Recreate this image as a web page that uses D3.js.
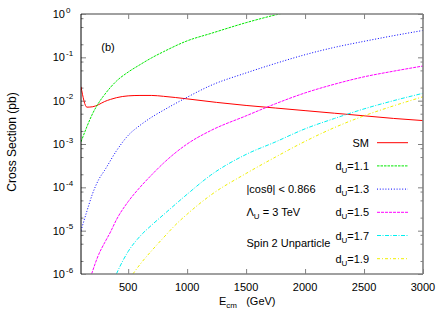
<!DOCTYPE html>
<html><head><meta charset="utf-8">
<script src="https://cdn.jsdelivr.net/npm/d3@7"></script>
<style>body{margin:0;background:#fff;} svg{display:block;font-family:"Liberation Sans",Arial,Helvetica,sans-serif;}</style>
</head><body><svg id="c" width="443" height="310"></svg>
<script>
// ---- data (E in GeV, cross section in pb) ----
const smE  = [100,150,200,250,300,350,400,500,600,700,800,1000,1250,1500,1750,2000,2250,2500,2750,3000];
const smV  = [0.0209,0.00708,0.00724,0.00813,0.00955,0.0107,0.0117,0.0129,0.0132,0.0132,0.0126,0.0110,0.00912,0.00776,0.00676,0.00589,0.00513,0.00447,0.00389,0.00347];
const d11E = [100,150,200,250,300,400,500,600,700,800,1000,1200,1500,1750,2000,2500,3000];
const d11V = [0.00112,0.00251,0.00513,0.00891,0.0138,0.0282,0.0457,0.0676,0.0977,0.135,0.240,0.355,0.631,0.955,1.35,2.29,3.55];
const d13E = [100,150,200,250,300,400,500,600,700,800,1000,1200,1500,1750,2000,2250,2500,2750,3000];
const d13V = [1.0e-5,2.82e-5,7.4e-5,1.51e-4,2.46e-4,6.92e-4,1.58e-3,2.69e-3,4.17e-3,6.03e-3,0.0120,0.0224,0.0437,0.0724,0.115,0.170,0.234,0.316,0.417];
const d15E = [190,250,300,350,400,500,600,700,800,1000,1200,1500,1750,2000,2250,2500,2750,3000];
const d15V = [1.0e-6,2.82e-6,5.25e-6,9.33e-6,1.78e-5,4.68e-5,1.0e-4,1.95e-4,3.63e-4,1.0e-3,2.04e-3,4.47e-3,8.51e-3,0.0151,0.0240,0.0355,0.0479,0.0631];
const d17E = [400,450,500,600,700,800,1000,1200,1500,1750,2000,2250,2500,2750,3000];
const d17V = [1.0e-6,1.91e-6,3.31e-6,7.41e-6,1.35e-5,2.34e-5,6.92e-5,1.91e-4,5.75e-4,1.12e-3,2.24e-3,3.89e-3,6.46e-3,0.0100,0.0148];
const d19E = [540,600,700,800,900,1000,1200,1500,1750,2000,2250,2500,2750,3000];
const d19V = [1.0e-6,1.66e-6,3.47e-6,6.92e-6,1.35e-5,2.40e-5,6.61e-5,2.09e-4,5.01e-4,1.15e-3,2.40e-3,4.47e-3,7.59e-3,0.0123];

const xTicks = [500,1000,1500,2000,2500,3000];
const yExps = [-6,-5,-4,-3,-2,-1,0];
const minorMults = [2,5,8];
const seriesNames = ["SM","1.1","1.3","1.5","1.7","1.9"];
const notes = ["|cos\u03b8| < 0.866","\u039b","Spin 2 Unparticle"];

// ---- layout ----
const L=81,R=423,T=14,B=274;
const svg = d3.select("#c");
const x = d3.scaleLinear().domain([100,3000]).range([L,R]);
const y = d3.scaleLog().domain([1e-6,1]).range([B,T]);

const series = [
  {E:smE, V:smV, color:"#ff0000", dash:null},
  {E:d11E,V:d11V,color:"#00e800", dash:"2.5,1"},
  {E:d13E,V:d13V,color:"#0000ff", dash:"1,1.8"},
  {E:d15E,V:d15V,color:"#ff00ff", dash:"3,1"},
  {E:d17E,V:d17V,color:"#00f0f0", dash:"4,1.5,1,1.5"},
  {E:d19E,V:d19V,color:"#f0f000", dash:"3,2,1,2"}
];

svg.append("defs").append("clipPath").attr("id","clip")
  .append("rect").attr("x",L).attr("y",T).attr("width",R-L).attr("height",B-T);

const grey="#808080";
const majors = yExps.map(e=>Math.pow(10,e));
const minors = [];
yExps.slice(0,-1).forEach(e=>minorMults.forEach(m=>minors.push(m*Math.pow(10,e))));

function styleAxis(g){ g.select(".domain").remove(); g.selectAll("line").attr("stroke",grey).attr("stroke-width",1); }

svg.append("g").attr("transform",`translate(0,${B})`)
  .call(d3.axisBottom(x).tickValues(xTicks).tickSize(-5).tickFormat("")).call(styleAxis);
svg.append("g").attr("transform",`translate(0,${T})`)
  .call(d3.axisTop(x).tickValues(xTicks).tickSize(-5).tickFormat("")).call(styleAxis);
svg.append("g").attr("transform",`translate(${L},0)`)
  .call(d3.axisLeft(y).tickValues(majors).tickSize(-5).tickFormat("")).call(styleAxis);
svg.append("g").attr("transform",`translate(${L},0)`)
  .call(d3.axisLeft(y).tickValues(minors).tickSize(-2.5).tickFormat("")).call(styleAxis);
svg.append("g").attr("transform",`translate(${R},0)`)
  .call(d3.axisRight(y).tickValues(majors).tickSize(-5).tickFormat("")).call(styleAxis);
svg.append("g").attr("transform",`translate(${R},0)`)
  .call(d3.axisRight(y).tickValues(minors).tickSize(-2.5).tickFormat("")).call(styleAxis);

// x tick labels
svg.append("g").selectAll("text").data(xTicks).join("text")
  .attr("x",d=>x(d)).attr("y",291).attr("text-anchor","middle")
  .attr("font-size",11).attr("fill","#000").text(d=>d);
// y tick labels
const ylg = svg.append("g");
yExps.forEach(d=>{
  ylg.append("text").attr("x",65).attr("y",y(Math.pow(10,d))+4).attr("text-anchor","end")
    .attr("font-size",11).attr("fill","#000").text("10");
  ylg.append("text").attr("x",66).attr("y",y(Math.pow(10,d))-1.5).attr("font-size",8).attr("fill","#000").text(d);
});

// curves
const line = d3.line().x(d=>x(d[0])).y(d=>y(d[1])).curve(d3.curveMonotoneX);
const cg = svg.append("g").attr("clip-path","url(#clip)");
series.forEach(s=>{
  cg.append("path").datum(s.E.map((e,i)=>[e,s.V[i]]))
    .attr("d",line).attr("fill","none").attr("stroke",s.color).attr("stroke-width",1)
    .attr("stroke-dasharray",s.dash);
});

// border
svg.append("line").attr("x1",L).attr("x2",R).attr("y1",T).attr("y2",T).attr("stroke",grey).attr("stroke-width",1.6);
svg.append("line").attr("x1",L).attr("x2",R).attr("y1",B).attr("y2",B).attr("stroke",grey).attr("stroke-width",1.6);
svg.append("line").attr("x1",R).attr("x2",R).attr("y1",T).attr("y2",B).attr("stroke",grey).attr("stroke-width",1.6);
svg.append("line").attr("x1",L).attr("x2",L).attr("y1",T).attr("y2",B).attr("stroke","#000").attr("stroke-width",1);

// legend
const lg = svg.append("g");
series.forEach((s,i)=>{
  const yy = 142.7 + i*23.2;
  const t = lg.append("text").attr("x",369).attr("y",yy+4).attr("text-anchor","end").attr("font-size",11).attr("fill","#000");
  if(i===0) t.text(seriesNames[i]);
  else { t.append("tspan").text("d"); t.append("tspan").attr("font-size",8).attr("dy",3).text("U");
         t.append("tspan").attr("dy",-3).text("="+seriesNames[i]); }
  lg.append("line").attr("x1",377).attr("x2",408).attr("y1",yy).attr("y2",yy)
    .attr("stroke",s.color).attr("stroke-width",1).attr("stroke-dasharray",s.dash);
});

// annotations
svg.append("text").attr("x",246.5).attr("y",193).attr("font-size",11).attr("fill","#000").text(notes[0]);
const lam = svg.append("text").attr("x",246.5).attr("y",216).attr("font-size",11).attr("fill","#000");
lam.append("tspan").text(notes[1]); lam.append("tspan").attr("font-size",8).attr("dy",3).text("U");
lam.append("tspan").attr("dy",-3).text(" = 3 TeV");
svg.append("text").attr("x",246.5).attr("y",247).attr("font-size",11).attr("fill","#000").text(notes[2]);
svg.append("text").attr("x",108).attr("y",51).attr("text-anchor","middle").attr("font-size",11).attr("fill","#000").text("(b)");

// axis titles
const xt = svg.append("text").attr("x",219).attr("y",305).attr("font-size",11).attr("fill","#000");
xt.append("tspan").text("E"); xt.append("tspan").attr("font-size",8).attr("dy",3).text("cm");
xt.append("tspan").attr("dy",-3).text("\u00a0\u00a0\u00a0(GeV)");
svg.append("text").attr("transform","translate(16,142) rotate(-90)").attr("text-anchor","middle")
  .attr("font-size",12).attr("fill","#000").text("Cross Section (pb)");
</script></body></html>
